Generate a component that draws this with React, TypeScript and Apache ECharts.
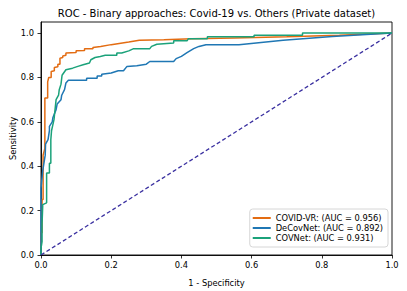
import React, { useEffect, useRef } from "react";
import * as echarts from "echarts";

const titleText = "ROC - Binary approaches: Covid-19 vs. Others (Private dataset)";
const xName = "1 - Specificity";
const yName = "Sensitivity";
const seriesNames = ["COVID-VR: (AUC = 0.956)", "DeCovNet: (AUC = 0.892)", "COVNet: (AUC = 0.931)"];
const tickValues = [0, 0.2, 0.4, 0.6, 0.8, 1.0];

const covidVR: number[][] = [
  [0, 0], [0, 0.1], [0.003, 0.1], [0.003, 0.25], [0.006, 0.25], [0.006, 0.45], [0.011, 0.48],
  [0.011, 0.707], [0.019, 0.707], [0.019, 0.78], [0.022, 0.8], [0.029, 0.8], [0.029, 0.827],
  [0.038, 0.83], [0.038, 0.845], [0.048, 0.848], [0.048, 0.86], [0.054, 0.86], [0.054, 0.887],
  [0.062, 0.89], [0.062, 0.897], [0.071, 0.9], [0.071, 0.91], [0.1, 0.912], [0.1, 0.92],
  [0.124, 0.922], [0.124, 0.929], [0.148, 0.93], [0.148, 0.935], [0.17, 0.94], [0.2, 0.948],
  [0.25, 0.96], [0.28, 0.968], [0.35, 0.97], [0.43, 0.974], [0.55, 0.978], [0.7, 0.983],
  [0.85, 0.99], [1, 1],
];

const deCovNet: number[][] = [
  [0, 0], [0, 0.3], [0.005, 0.38], [0.012, 0.45], [0.013, 0.5], [0.02, 0.52], [0.024, 0.56],
  [0.024, 0.58], [0.032, 0.6], [0.034, 0.62], [0.043, 0.655], [0.046, 0.68], [0.057, 0.7],
  [0.059, 0.72], [0.067, 0.745], [0.071, 0.775], [0.078, 0.787], [0.13, 0.787], [0.13, 0.797],
  [0.16, 0.797], [0.16, 0.807], [0.173, 0.807], [0.173, 0.815], [0.2, 0.82], [0.22, 0.83],
  [0.235, 0.83], [0.245, 0.85], [0.273, 0.853], [0.3, 0.86], [0.31, 0.872], [0.378, 0.872],
  [0.385, 0.885], [0.4, 0.895], [0.416, 0.912], [0.435, 0.93], [0.45, 0.94], [0.47, 0.947],
  [0.564, 0.947], [0.69, 0.968], [0.83, 0.985], [1, 1],
];

const covNet: number[][] = [
  [0, 0], [0, 0.03], [0.003, 0.06], [0.003, 0.14], [0.005, 0.14], [0.005, 0.227], [0.016, 0.235],
  [0.016, 0.37], [0.024, 0.37], [0.024, 0.414], [0.028, 0.414], [0.028, 0.52], [0.03, 0.56],
  [0.037, 0.61], [0.04, 0.655], [0.043, 0.7], [0.05, 0.72], [0.052, 0.745], [0.057, 0.77],
  [0.06, 0.81], [0.071, 0.835], [0.09, 0.842], [0.105, 0.85], [0.12, 0.857], [0.138, 0.865],
  [0.142, 0.88], [0.154, 0.89], [0.169, 0.895], [0.183, 0.9], [0.216, 0.9], [0.216, 0.91],
  [0.23, 0.91], [0.25, 0.92], [0.264, 0.93], [0.31, 0.93], [0.315, 0.94], [0.33, 0.95],
  [0.378, 0.955], [0.378, 0.965], [0.416, 0.965], [0.42, 0.975], [0.474, 0.975], [0.474, 0.983],
  [0.607, 0.983], [0.607, 0.99], [0.745, 0.99], [0.745, 1.0], [1, 1],
];

const diagonal: number[][] = [[0, 0], [1, 1]];

const colors = ["#e36c12", "#1f77b4", "#1ba27a"];
const FONT = "DejaVu Sans";
const FS = 8.3;

export default function App() {
  const ref = useRef<HTMLDivElement>(null);
  useEffect(() => {
    if (!ref.current) return;
    const chart = echarts.init(ref.current, null, { renderer: "svg" });
    const allData = [covidVR, deCovNet, covNet];
    chart.setOption({
      animation: false,
      backgroundColor: "#fff",
      textStyle: { fontFamily: FONT },
      grid: {
        left: 41, right: 15, top: 22, bottom: 36,
        containLabel: false,
        outerBoundsMode: "none",
        show: true, borderColor: "#000", borderWidth: 0.9, backgroundColor: "transparent",
      },
      graphic: [
        {
          type: "text",
          x: 216.5,
          y: 13,
          style: { text: titleText, textAlign: "center", textVerticalAlign: "middle", fontFamily: FONT, fontSize: 10, fill: "#000" },
        },
        {
          type: "text",
          x: 12.5,
          y: 138.5,
          rotation: Math.PI / 2,
          style: { text: yName, textAlign: "center", textVerticalAlign: "middle", fontFamily: FONT, fontSize: FS, fill: "#000" },
        },
      ],
      legend: {
        orient: "vertical",
        right: 19,
        bottom: 44,
        itemWidth: 18,
        itemHeight: 2,
        itemGap: 0,
        padding: [4, 5, 4, 3],
        borderColor: "#ccc",
        borderWidth: 0.8,
        borderRadius: 3,
        backgroundColor: "rgba(255,255,255,0.8)",
        textStyle: { fontFamily: FONT, fontSize: FS, color: "#000", lineHeight: 10, padding: [0, 0, 0, 0] },
        data: seriesNames.map((n) => ({ name: n, icon: "rect" })),
      },
      xAxis: {
        type: "value",
        min: 0,
        max: 1,
        interval: 0.2,
        name: xName,
        nameLocation: "middle",
        nameGap: 24,
        nameTextStyle: { fontFamily: FONT, fontSize: FS, color: "#000" },
        axisLine: { show: true, lineStyle: { color: "#000", width: 0.9 } },
        axisTick: { show: true, length: 3.5, lineStyle: { color: "#000", width: 0.8 }, customValues: tickValues },
        axisLabel: { margin: 6, fontFamily: FONT, fontSize: FS, color: "#000", customValues: tickValues, formatter: (v: number) => v.toFixed(1) },
        splitLine: { show: false },
      },
      yAxis: {
        type: "value",
        min: 0,
        max: 1.05,
        interval: 0.2,
        axisLine: { show: true, lineStyle: { color: "#000", width: 0.9 } },
        axisTick: { show: true, length: 3.5, lineStyle: { color: "#000", width: 0.8 }, customValues: tickValues },
        axisLabel: { margin: 7, fontFamily: FONT, fontSize: FS, color: "#000", customValues: tickValues, formatter: (v: number) => v.toFixed(1) },
        splitLine: { show: false },
      },
      series: [
        ...allData.map((d, i) => ({
          name: seriesNames[i],
          type: "line",
          data: d,
          showSymbol: false,
          symbol: "none",
          color: colors[i],
          lineStyle: { color: colors[i], width: 1.5 },
          z: 2 + i,
        })),
        {
          name: "chance",
          type: "line",
          data: diagonal,
          showSymbol: false,
          symbol: "none",
          color: "#3a30a0",
          lineStyle: { color: "#3a30a0", width: 1.3, type: [4, 2.5] },
          z: 6,
        },
      ],
    });
    return () => chart.dispose();
  }, []);
  return <div ref={ref} style={{ position: "fixed", left: 0, top: 0, width: 407, height: 291 }} />;
}
